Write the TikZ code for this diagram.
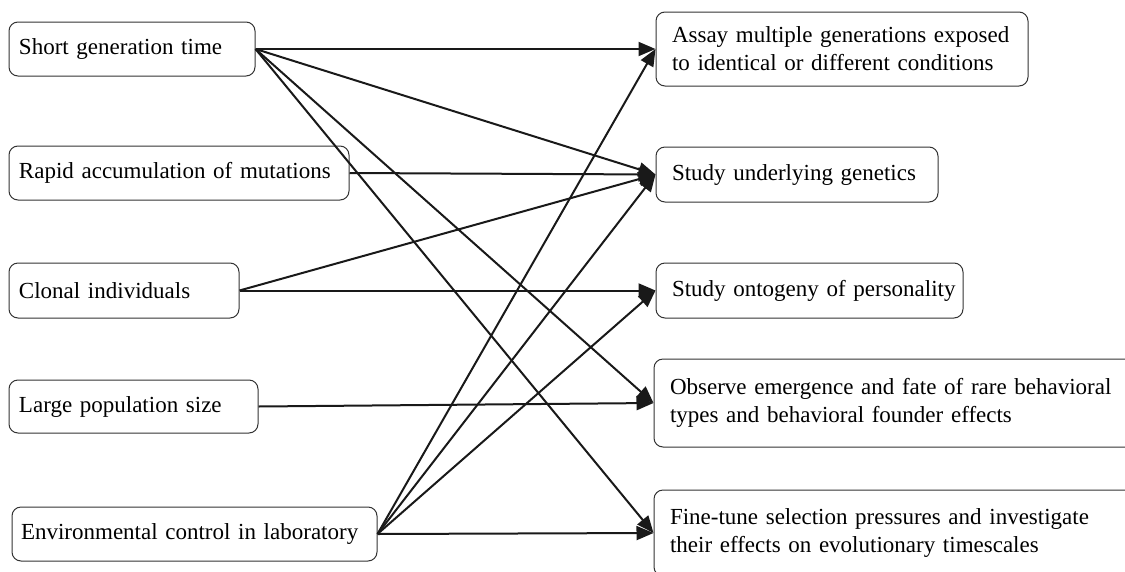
\documentclass[tikz,border=0pt]{standalone}
\usepackage{fontspec}
\setmainfont{Liberation Serif}
\usetikzlibrary{arrows.meta}
\begin{document}
\begin{tikzpicture}[x=1pt,y=-1pt,
  box/.style={draw=black!80, line width=1pt, rounded corners=9pt, align=left,
    font=\fontsize{23}{28}\selectfont, inner ysep=0pt},
  lbox/.style={box, inner xsep=10pt},
  rbox/.style={box, inner xsep=16pt},
  conn/.style={line width=2pt, draw=black!90, -{Triangle[length=17pt,width=14pt]}}
]
\useasboundingbox (0,0) rectangle (1125,571);
% left boxes
\node[lbox, text width=226pt, minimum height=54pt] (s1) at (132,49) {Short generation time};
\node[lbox, text width=320pt, minimum height=54pt] (s2) at (179,173) {Rapid accumulation of mutations};
\node[lbox, text width=210pt, minimum height=55pt] (s3) at (124,290.5) {Clonal individuals};
\node[lbox, text width=229pt, minimum height=53pt] (s4) at (133.5,406.5) {Large population size};
\node[lbox, inner xsep=9pt, text width=347pt, minimum height=54pt] (s5) at (194.5,534) {Environmental control in laboratory};
% right boxes
\node[rbox, text width=340pt, minimum height=74pt] (r1) at (842,49) {\mbox{Assay multiple generations exposed}\\\mbox{to identical or different conditions}};
\node[rbox, text width=250pt, minimum height=55pt] (r2) at (797,174.5) {Study underlying genetics};
\node[rbox, text width=275pt, minimum height=55pt] (r3) at (809.5,290.5) {\mbox{Study ontogeny of personality}};
\node[rbox, text width=449pt, minimum height=88pt] (r4) at (894.5,403) {\mbox{Observe emergence and fate of rare behavioral}\\\mbox{types and behavioral founder effects}};
\node[rbox, text width=449pt, minimum height=86pt] (r5) at (894.5,533) {\mbox{Fine-tune selection pressures and investigate}\\\mbox{their effects on evolutionary timescales}};
% connectors
\draw[conn] (s1.east) -- (r1.west);
\draw[conn] (s1.east) -- (r2.west);
\draw[conn] (s1.east) -- (r4.west);
\draw[conn] (s1.east) -- (r5.west);
\draw[conn] (s2.east) -- (r2.west);
\draw[conn] (s3.east) -- (r2.west);
\draw[conn] (s3.east) -- (r3.west);
\draw[conn] (s4.east) -- (r4.west);
\draw[conn] (s5.east) -- (r1.west);
\draw[conn] (s5.east) -- (r2.west);
\draw[conn] (s5.east) -- (r3.west);
\draw[conn] (s5.east) -- (r5.west);
\end{tikzpicture}
\end{document}
